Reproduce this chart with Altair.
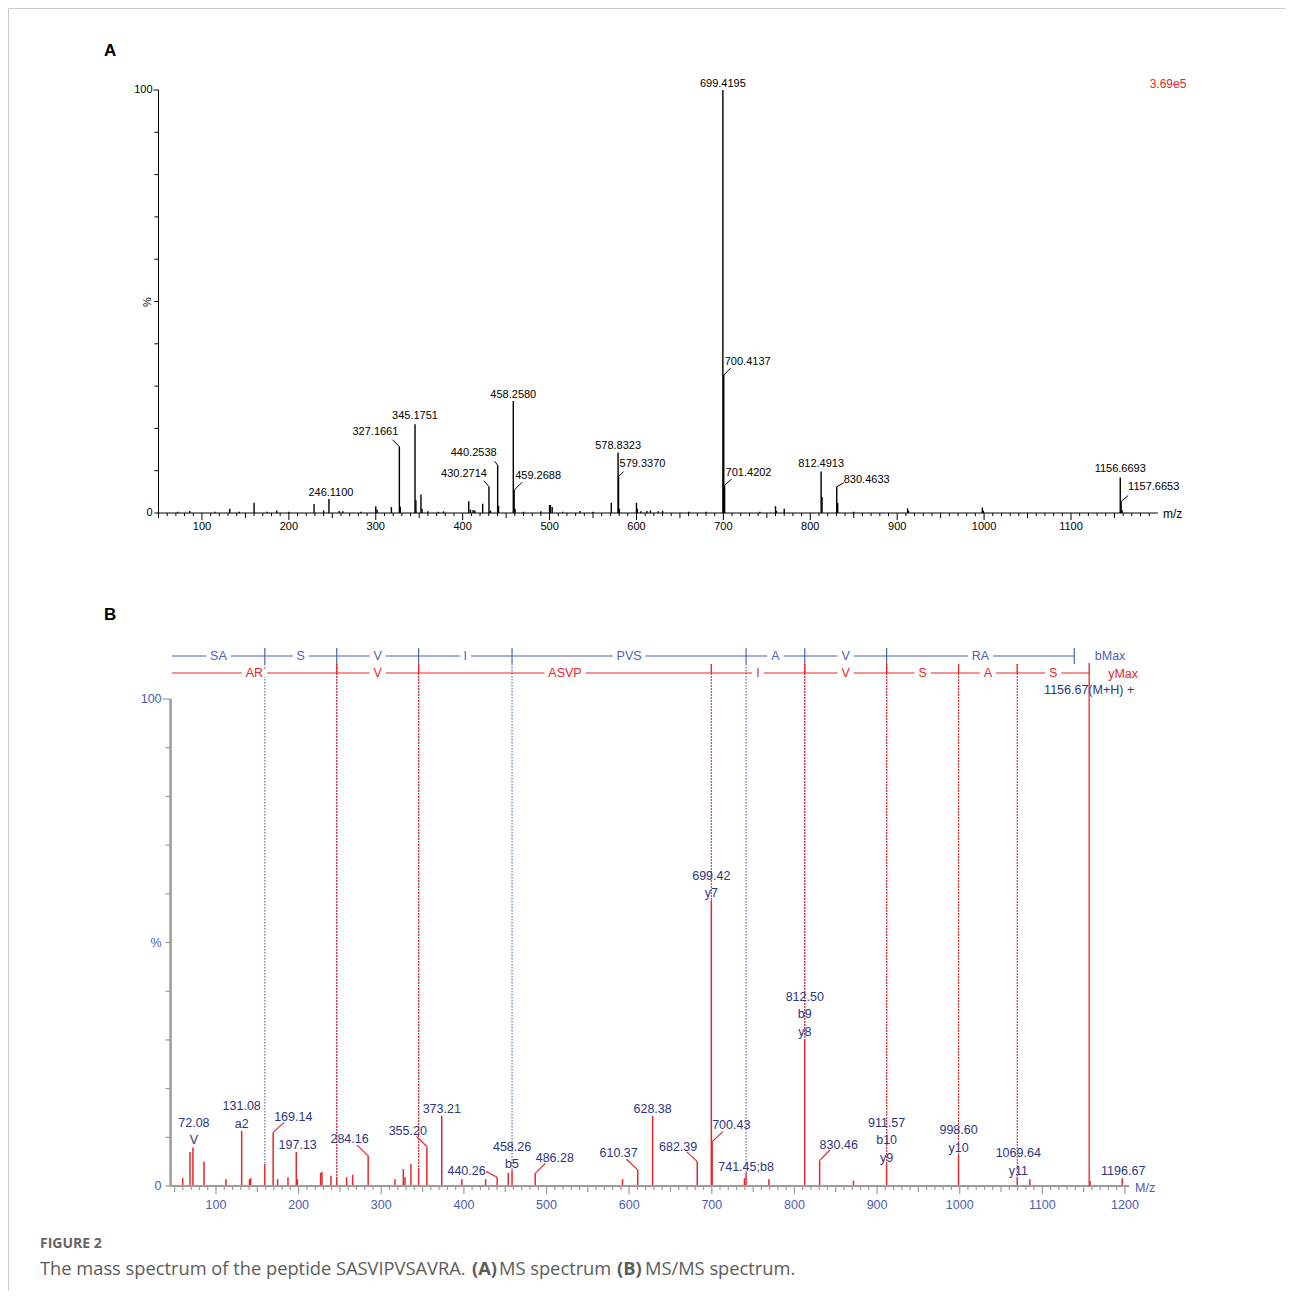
import altair as alt
import pandas as pd

FONT = "Liberation Sans"

# ---------------- Panel A : MS spectrum (m/z, relative intensity %) ----------------
a_mz = [72, 86, 115, 132, 143, 160, 175, 186, 200, 229, 240, 246.11, 258, 262, 283,
        300, 301.5, 318, 327.1661, 328.2, 345.1751, 346.2, 352, 353.2, 360, 372, 378,
        407, 409, 412, 414, 423, 430.2714, 432, 440.2538, 441.3, 458.2580, 459.2688, 460.3,
        470, 490, 500, 501, 503, 515, 535, 550, 571, 578.8323, 579.3370, 580.3, 600, 601,
        605, 612, 616, 625, 630, 660, 680, 699.4195, 700.4137, 701.4202, 742, 760, 761, 770,
        812.4913, 813.5, 830.4633, 831.5, 850, 912, 913, 998, 999, 1156.6693, 1157.6653, 1158.7]
a_int = [0.3, 0.5, 0.3, 1.0, 0.3, 2.4, 0.3, 0.6, 0.3, 2.1, 0.6, 3.3, 0.5, 0.4, 0.3,
         1.6, 0.8, 1.4, 15.7, 1.5, 21.0, 3.0, 4.4, 1.0, 0.4, 0.3, 0.4,
         2.8, 0.8, 0.7, 0.6, 2.2, 6.2, 0.6, 11.3, 1.7, 26.5, 5.4, 1.0,
         0.3, 0.4, 1.9, 1.9, 1.4, 0.3, 0.5, 0.3, 2.4, 14.3, 8.6, 1.0, 2.4, 1.0,
         0.4, 0.5, 0.6, 0.4, 0.5, 0.3, 0.3, 100, 32.6, 6.6, 0.3, 1.6, 0.5, 1.0,
         9.8, 3.8, 6.2, 2.4, 0.3, 1.1, 0.5, 1.3, 0.6, 8.4, 2.7, 0.7]

a_label_text = ["699.4195", "700.4137", "701.4202", "458.2580", "459.2688", "440.2538",
                "430.2714", "578.8323", "579.3370", "345.1751", "327.1661", "246.1100",
                "812.4913", "830.4633", "1156.6693", "1157.6653"]
a_label_mz = [699.4195, 700.4137, 701.4202, 458.2580, 459.2688, 440.2538, 430.2714, 578.8323,
              579.3370, 345.1751, 327.1661, 246.11, 812.4913, 830.4633, 1156.6693, 1157.6653]
a_label_int = [100, 32.6, 6.6, 26.5, 5.4, 11.3, 6.2, 14.3, 8.6, 21.0, 15.7, 3.3, 9.8, 6.2, 8.4, 2.7]
a_scale_max = "3.69e5"
a_xtick_labels = [100, 200, 300, 400, 500, 600, 700, 800, 900, 1000, 1100]
a_ytick_labels = [0, 100]

# ---------------- Panel B : MS/MS spectrum ----------------
b_mz = [59.7, 68.5, 72.08, 85.5, 112.1, 131.08, 140.5, 142.0, 159.08, 169.14, 174.6, 187.1,
        197.13, 198.5, 226.6, 228.2, 239.1, 246.16, 258.1, 265.4, 284.16, 316.6, 326.7, 328.7,
        335.9, 345.23, 355.20, 373.21, 397.6, 426.3, 440.26, 453.7, 458.26, 486.28, 592.0,
        610.37, 628.38, 682.39, 699.42, 700.43, 739.5, 741.45, 769.1, 812.50, 830.46, 871.5,
        911.57, 998.60, 1069.64, 1084.9, 1157.8, 1196.67]
b_int = [1.6, 7.0, 7.9, 5.0, 1.4, 11.3, 1.4, 1.6, 4.5, 11.0, 1.4, 1.8,
         7.0, 1.4, 2.7, 2.9, 2.1, 1.9, 1.8, 2.3, 6.2, 1.4, 3.5, 1.8,
         4.5, 3.4, 8.1, 14.4, 1.4, 1.4, 1.8, 2.7, 3.3, 2.6, 1.4,
         3.3, 14.4, 5.0, 58.7, 9.1, 1.6, 2.7, 1.4, 30.0, 5.2, 1.1,
         4.5, 6.4, 1.9, 1.4, 1.1, 1.6]

b_label_lines = [["72.08", "V"], ["131.08", "a2"], ["169.14"], ["197.13"], ["284.16"],
                 ["355.20"], ["373.21"], ["440.26"], ["458.26", "b5"], ["486.28"], ["610.37"],
                 ["628.38"], ["682.39"], ["699.42", "y7"], ["700.43"], ["741.45;b8"],
                 ["812.50", "b9", "y8"], ["830.46"], ["911.57", "b10", "y9"], ["998.60", "y10"],
                 ["1069.64", "y11"], ["1196.67"]]
b_label_mz = [72.08, 131.08, 169.14, 197.13, 284.16, 355.20, 373.21, 440.26, 458.26, 486.28,
              610.37, 628.38, 682.39, 699.42, 700.43, 741.45, 812.50, 830.46, 911.57, 998.60,
              1069.64, 1196.67]
b_label_int = [7.9, 11.3, 11.0, 7.0, 6.2, 8.1, 14.4, 1.8, 3.3, 2.6, 3.3, 14.4, 5.0, 58.7, 9.1,
               2.7, 30.0, 5.2, 4.5, 6.4, 1.9, 1.6]

b_ions = [159.08, 246.11, 345.18, 458.26, 741.45, 812.50, 911.57]
b_max = 1138.66
y_ions = [246.16, 345.23, 699.42, 812.50, 911.57, 998.60, 1069.64]
y_max = 1156.67
b_seg_labels = ["SA", "S", "V", "I", "PVS", "A", "V", "RA"]
y_seg_labels = ["AR", "V", "ASVP", "I", "V", "S", "A", "S"]
ladder_start = 46.8
precursor_text = "1156.67(M+H) +"
b_xtick_labels = [100, 200, 300, 400, 500, 600, 700, 800, 900, 1000, 1100, 1200]
b_ytick_labels = {0: "0", 50: "%", 100: "100"}

# ---------------- layout (pixels, chart coordinates) ----------------
W, H = 1277, 1283
A_DOM, A_XR, A_YR = [50, 1200], [150.5, 1149.9], [505, 82]
B_DOM, B_XR, B_YR = [45, 1205], [162.55, 1121.1], [1178, 691]
KXA = (A_XR[1] - A_XR[0]) / (A_DOM[1] - A_DOM[0])
KYA = (A_YR[0] - A_YR[1]) / 100.0
KXB = (B_XR[1] - B_XR[0]) / (B_DOM[1] - B_DOM[0])
KYB = (B_YR[0] - B_YR[1]) / 100.0

a_label_layout = [("center", 0, -6, None), ("left", 1, -13, (7, -7)), ("left", 1, -12, (7, -6)),
                  ("center", 0, -6, None), ("left", 1, -14, (8, -8)), ("right", -1, -12, (-3, -4)),
                  ("right", -2, -13, (-5, -6)), ("center", 0, -7, None), ("left", 1, -13, (5, -5)),
                  ("center", 0, -8, None), ("right", -1, -15, (-7, -7)), ("center", 2, -6, None),
                  ("center", 0, -8, None), ("left", 7, -7, (7, -4)), ("center", 0, -8, None),
                  ("left", 7, -15, (7, -6))]
b_label_layout = [("center", 1, -7.5, None), ("center", 0, -7, None), ("left", 1, -15, (11, -10)),
                  ("center", 1.4, -7, None), ("right", 0.5, -16.4, (-11, -10.7)),
                  ("right", 0, -15.5, (-10.3, -10)), ("center", 0, -7, None),
                  ("right", -11.5, -6.5, (-11, -5.6)), ("center", 0, -5.7, None),
                  ("left", 0.5, -15.6, (10.3, -10)), ("right", 0, -16.7, (-11.3, -10.7)),
                  ("center", 0, -7, None), ("right", 0, -15, (-10.7, -10)), ("center", 0, -7, None),
                  ("left", 0, -16.7, (10.7, -10)), ("center", 0, -5.7, None), ("center", 0, -8, None),
                  ("left", 0, -15.7, (10.3, -10.7)), ("center", 0, -6.3, None), ("center", 0, -7, None),
                  ("center", 1, -6, None), ("center", 1, -7.6, None)]
LINE_STEP = 17.5

RED = "#e8262b"
NAVY = "#2d3580"
AXBLUE = "#4a5db0"
LBLUE = "#4c63b6"
GRAY = "#9c9c9c"

A_XS = alt.Scale(domain=A_DOM, range=A_XR, nice=False, zero=False)
A_YS = alt.Scale(domain=[0, 100], range=A_YR, nice=False, zero=False)
B_XS = alt.Scale(domain=B_DOM, range=B_XR, nice=False, zero=False)
B_YS = alt.Scale(domain=[0, 100], range=B_YR, nice=False, zero=False)


def ax_(s):
    return alt.X("x:Q", scale=s, axis=None)


def ay_(s):
    return alt.Y("y:Q", scale=s, axis=None)


def rules(df, xs, ys, **kw):
    enc = dict(x=ax_(xs), y=ay_(ys))
    if "x2" in df.columns:
        enc["x2"] = "x2:Q"
    if "y2" in df.columns:
        enc["y2"] = "y2:Q"
    return alt.Chart(df).mark_rule(**kw).encode(**enc)


def texts(df, xs, ys, **kw):
    return alt.Chart(df).mark_text(**kw).encode(x=ax_(xs), y=ay_(ys), text="text:N")


def by(px):
    return (B_YR[0] - px) / KYB


def tick_len(v):
    return 7 if v % 100 == 0 else (5 if v % 50 == 0 else 3)


# ======================= Panel A =======================
dfa = pd.DataFrame({"x": a_mz, "y": a_int, "y2": 0.0})
a_peaks = rules(dfa, A_XS, A_YS, color="black", strokeWidth=1.4)

a_dom = pd.DataFrame({"x": [A_DOM[0], A_DOM[0]], "y": [0.0, 0.0], "x2": [A_DOM[1], A_DOM[0]],
                      "y2": [0.0, 100.0]})
a_dom_l = rules(a_dom, A_XS, A_YS, color="black", strokeWidth=1)
xt = list(range(50, 1200, 10))
a_xt = pd.DataFrame({"x": xt, "y": 0.0, "y2": [-tick_len(v) / KYA for v in xt]})
a_xt_l = rules(a_xt, A_XS, A_YS, color="black", strokeWidth=1)
yt = list(range(0, 101, 10))
a_yt = pd.DataFrame({"x": A_DOM[0], "y": yt,
                     "x2": [A_DOM[0] - (5 if v == 100 else 4) / KXA for v in yt]})
a_yt_l = rules(a_yt, A_XS, A_YS, color="black", strokeWidth=1)
a_xl = pd.DataFrame({"x": a_xtick_labels, "y": -14 / KYA, "text": [str(v) for v in a_xtick_labels]})
a_xl_t = texts(a_xl, A_XS, A_YS, font=FONT, fontSize=11, color="black", align="center", baseline="middle")
a_yl = pd.DataFrame({"x": A_DOM[0] - 6 / KXA, "y": a_ytick_labels,
                     "text": [str(v) for v in a_ytick_labels]})
a_yl_t = texts(a_yl, A_XS, A_YS, font=FONT, fontSize=11, color="black", align="right", baseline="middle")

rows, leads = [], []
for t, m, h, (al, dx, dy, ld) in zip(a_label_text, a_label_mz, a_label_int, a_label_layout):
    rows.append({"text": t, "x": m + dx / KXA, "y": h - dy / KYA, "align": al})
    if ld:
        leads.append({"x": m, "y": h, "x2": m + ld[0] / KXA, "y2": h - ld[1] / KYA})
dfa_lab = pd.DataFrame(rows)
a_leads = rules(pd.DataFrame(leads), A_XS, A_YS, color="black", strokeWidth=1)
a_texts = []
for al in ["left", "center", "right"]:
    sub = dfa_lab[dfa_lab["align"] == al]
    if len(sub):
        a_texts.append(texts(sub, A_XS, A_YS, align=al, baseline="middle", font=FONT,
                             fontSize=11, color="black"))

# ======================= Panel B =======================
dfb = pd.DataFrame({"x": b_mz, "y": b_int, "y2": 0.0})
b_peaks = rules(dfb, B_XS, B_YS, color=RED, strokeWidth=1.5)


def peak_h(m):
    best = min(range(len(b_mz)), key=lambda i: abs(b_mz[i] - m))
    return b_int[best] if abs(b_mz[best] - m) < 0.6 else 0.0


b_domx = rules(pd.DataFrame({"x": [B_DOM[0]], "x2": [B_DOM[1]], "y": [0.0]}), B_XS, B_YS,
               color=GRAY, strokeWidth=2)
b_domy = rules(pd.DataFrame({"x": [B_DOM[0]], "y": [0.0], "y2": [100.0]}), B_XS, B_YS,
               color=GRAY, strokeWidth=2.5)
xtb = list(range(50, 1201, 10))
b_xt = pd.DataFrame({"x": xtb, "y": 0.0, "y2": [-(tick_len(v) + 1) / KYB for v in xtb]})
b_xt_l = rules(b_xt, B_XS, B_YS, color=GRAY, strokeWidth=1.2)
b_yt = pd.DataFrame({"x": B_DOM[0], "y": yt,
                     "x2": [B_DOM[0] - (8 if v == 100 else 5) / KXB for v in yt]})
b_yt_l = rules(b_yt, B_XS, B_YS, color=GRAY, strokeWidth=1.2)
b_xl = pd.DataFrame({"x": b_xtick_labels, "y": -19 / KYB, "text": [str(v) for v in b_xtick_labels]})
b_xl_t = texts(b_xl, B_XS, B_YS, font=FONT, fontSize=12.5, color=AXBLUE, align="center", baseline="middle")
b_yl = pd.DataFrame({"x": B_DOM[0] - 9 / KXB, "y": list(b_ytick_labels.keys()),
                     "text": list(b_ytick_labels.values())})
b_yl_t = texts(b_yl, B_XS, B_YS, font=FONT, fontSize=12.5, color=AXBLUE, align="right", baseline="middle")

BLUE_Y, RED_Y = by(648), by(665)
V_TOP = by(656)

vb = pd.DataFrame({"x": b_ions, "y": V_TOP, "y2": [peak_h(m) for m in b_ions]})
vr = pd.DataFrame({"x": y_ions, "y": V_TOP, "y2": [peak_h(m) for m in y_ions]})
v_blue = rules(vb, B_XS, B_YS, color=LBLUE, strokeWidth=1.1, strokeDash=[1.5, 1.5])
v_red = rules(vr, B_XS, B_YS, color=RED, strokeWidth=1.1, strokeDash=[2, 1])
ymax_line = rules(pd.DataFrame({"x": [y_max], "y": [by(655)], "y2": [0.0]}), B_XS, B_YS,
                  color=RED, strokeWidth=1.3)

lad_b = rules(pd.DataFrame({"x": [ladder_start], "x2": [b_max], "y": [BLUE_Y]}), B_XS, B_YS,
              color=LBLUE, strokeWidth=1.2)
lad_r = rules(pd.DataFrame({"x": [ladder_start], "x2": [y_max], "y": [RED_Y]}), B_XS, B_YS,
              color=RED, strokeWidth=1.2)
tick_b = rules(pd.DataFrame({"x": b_ions + [b_max], "y": by(640), "y2": by(656)}), B_XS, B_YS,
               color=LBLUE, strokeWidth=1.2)
tick_r = rules(pd.DataFrame({"x": y_ions, "y": by(656), "y2": by(665)}), B_XS, B_YS,
               color=RED, strokeWidth=1.2)

CHAR_W = {"S": 8.3, "A": 8.3, "V": 8.3, "P": 8.3, "R": 9.0, "I": 3.5}


def seg_df(bounds, labels, yv):
    out = []
    for i, lab in enumerate(labels):
        mid = (bounds[i] + bounds[i + 1]) / 2.0
        w = sum(CHAR_W.get(ch, 8.3) for ch in lab) + 8
        out.append({"x": mid, "y": yv, "text": lab, "size": w * w})
    return pd.DataFrame(out)


seg_b = seg_df([ladder_start] + b_ions + [b_max], b_seg_labels, BLUE_Y)
seg_r = seg_df([ladder_start] + y_ions + [y_max], y_seg_labels, RED_Y)
segs = pd.concat([seg_b, seg_r], ignore_index=True)
boxes = alt.Chart(segs).mark_point(shape="M-1,-0.3H1V0.3H-1Z", filled=True, fill="white",
                                   opacity=1, strokeWidth=0).encode(
    x=ax_(B_XS), y=ay_(B_YS), size=alt.Size("size:Q", scale=None, legend=None))
seg_tb = texts(seg_b, B_XS, B_YS, font=FONT, fontSize=12.5, baseline="middle", align="center", color=LBLUE)
seg_tr = texts(seg_r, B_XS, B_YS, font=FONT, fontSize=12.5, baseline="middle", align="center", color=RED)

bmax_t = texts(pd.DataFrame({"x": [b_max + 20.5 / KXB], "y": [by(648)], "text": ["bMax"]}), B_XS, B_YS,
               font=FONT, fontSize=12.5, baseline="middle", align="left", color=LBLUE)
ymax_t = texts(pd.DataFrame({"x": [y_max + 19 / KXB], "y": [by(666)], "text": ["yMax"]}), B_XS, B_YS,
               font=FONT, fontSize=12.5, baseline="middle", align="left", color=RED)
prec = texts(pd.DataFrame({"x": [y_max], "y": [by(682)], "text": [precursor_text]}), B_XS, B_YS,
             font=FONT, fontSize=12.5, baseline="middle", align="center", color=NAVY)

rows, leads = [], []
for lines, m, h, (al, dx, dy, ld) in zip(b_label_lines, b_label_mz, b_label_int, b_label_layout):
    n = len(lines)
    for i, t in enumerate(lines):
        dyi = dy - (n - 1 - i) * LINE_STEP
        rows.append({"text": t, "x": m + dx / KXB, "y": h - dyi / KYB, "align": al})
    if ld:
        leads.append({"x": m, "y": h, "x2": m + ld[0] / KXB, "y2": h - ld[1] / KYB})
dfb_lab = pd.DataFrame(rows)
b_leads = rules(pd.DataFrame(leads), B_XS, B_YS, color=RED, strokeWidth=1.2)
b_texts = []
for al in ["left", "center", "right"]:
    sub = dfb_lab[dfb_lab["align"] == al]
    if len(sub):
        b_texts.append(texts(sub, B_XS, B_YS, align=al, baseline="middle", font=FONT,
                             fontSize=12.5, color=NAVY))

# ======================= fixed annotations =======================
ONE = pd.DataFrame({"k": [0]})


def txt(s, x, y, size, color, weight="normal", align="left", angle=0, font=FONT):
    return alt.Chart(ONE).mark_text(text=s, align=align, baseline="middle", fontSize=size,
                                    color=color, fontWeight=weight, angle=angle, font=font).encode(
        x=alt.value(x), y=alt.value(y))


CAP = "#5c5c5c"
CF = "Open Sans"
CS = 18.3
annot = [
    txt("A", 96, 43, 17, "black", "bold"),
    txt("B", 96, 607, 17, "black", "bold"),
    txt(a_scale_max, 1160, 76, 12, RED, align="center"),
    txt("%", 140, 294, 11, "black", align="center", angle=270),
    txt("m/z", 1155, 506, 12, "black"),
    txt("M/z", 1127, 1180, 12.5, AXBLUE),
    txt("FIGURE 2", 32, 1236, 14, "#666666", "bold", font=CF),
    txt("The mass spectrum of the peptide SASVIPVSAVRA.", 32, 1262, CS, CAP, font=CF),
    txt("(A)", 464, 1262, CS, CAP, "bold", font=CF),
    txt("MS spectrum", 491, 1262, CS, CAP, font=CF),
    txt("(B)", 609, 1262, CS, CAP, "bold", font=CF),
    txt("MS/MS spectrum.", 637, 1262, CS, CAP, font=CF),
]

layers = [a_peaks, a_dom_l, a_xt_l, a_yt_l, a_xl_t, a_yl_t, a_leads, *a_texts,
          b_peaks, b_domx, b_domy, b_xt_l, b_yt_l, b_xl_t, b_yl_t, v_blue, v_red, ymax_line,
          lad_b, lad_r, tick_b, tick_r, boxes, seg_tb, seg_tr, bmax_t, ymax_t, prec, b_leads,
          *b_texts, *annot]

chart = alt.layer(*layers).resolve_scale(x="independent", y="independent").properties(
    width=W, height=H, padding=0).configure_view(stroke="#cccccc", strokeWidth=1)

chart.save("out.html", embed_options={"renderer": "svg", "actions": False})
